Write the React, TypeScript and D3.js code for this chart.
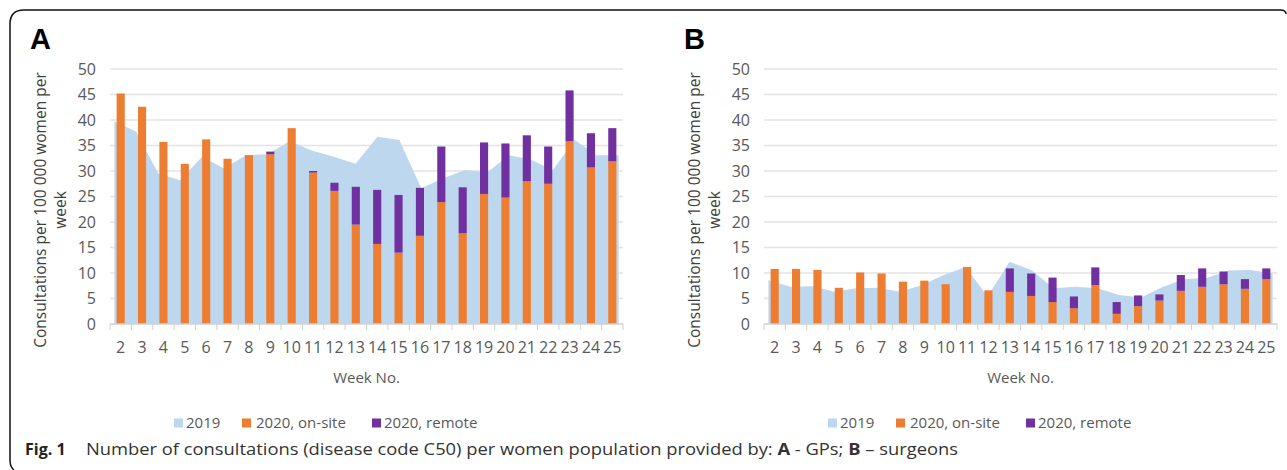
import React from 'react';
import * as d3 from 'd3';

const weeks = ['2','3','4','5','6','7','8','9','10','11','12','13','14','15','16','17','18','19','20','21','22','23','24','25'];

const gp2019 = [39.7,37.7,29.5,28.2,32.8,30.5,33.1,33.3,35.9,34.0,32.8,31.4,36.7,36.1,26.6,28.6,30.2,29.7,33.1,32.2,30.2,36.1,33.1,33.1];
const gpOnSite = [45.2,42.6,35.7,31.4,36.2,32.4,33.1,33.3,38.4,29.7,26.1,19.5,15.7,14.0,17.3,23.9,17.8,25.5,24.8,28.0,27.5,35.8,30.7,31.9];
const gpRemote = [0,0,0,0,0,0,0,0.5,0,0.3,1.6,7.4,10.6,11.3,9.4,10.9,9.0,10.1,10.6,9.0,7.3,10.0,6.7,6.5];

const surg2019 = [8.6,7.3,7.4,6.3,7.0,7.1,6.3,7.6,9.6,11.2,5.4,12.2,10.6,7.0,7.3,7.0,5.7,5.2,7.3,8.8,9.0,10.5,10.6,9.9];
const surgOnSite = [10.8,10.8,10.6,7.1,10.1,9.9,8.3,8.5,7.8,11.2,6.6,6.3,5.5,4.3,3.1,7.6,2.0,3.5,4.6,6.5,7.3,7.8,6.9,8.8];
const surgRemote = [0,0,0,0,0,0,0,0,0,0,0,4.6,4.4,4.8,2.3,3.5,2.3,2.1,1.2,3.1,3.6,2.5,1.9,2.1];

const yTicks = [0,5,10,15,20,25,30,35,40,45,50];
const seriesLabels = ['2019','2020, on-site','2020, remote'];
const yTitle1 = 'Consultations per 100 000 women per';
const yTitle2 = 'week';
const xTitle = 'Week No.';

const C2019 = '#bdd7ee';
const CONSITE = '#ed7d31';
const CREMOTE = '#7030a0';
const TXT = '#595959';
const FONT = "'Open Sans', sans-serif";

const PLOT_W = 513;
const Y0 = 324;
const Y50 = 69;

type PanelProps = { letter: string; left: number; v2019: number[]; onsite: number[]; remote: number[] };

function Panel({ letter, left, v2019, onsite, remote }: PanelProps) {
  const x = d3.scaleBand<string>().domain(weeks).range([left, left + PLOT_W]).paddingInner(0.62).paddingOuter(0.31);
  const xp = d3.scalePoint<string>().domain(weeks).range([left, left + PLOT_W]).padding(0.2);
  const y = d3.scaleLinear().domain([0, 50]).range([Y0, Y50]);
  const step = PLOT_W / weeks.length;

  const table = weeks.map((w, i) => ({ week: w, onsite: onsite[i], remote: remote[i] }));
  const stacked = d3.stack<any>().keys(['onsite', 'remote'])(table);
  const colors = [CONSITE, CREMOTE];

  const areaGen = d3.area<number>()
    .x((_, i) => xp(weeks[i]) as number)
    .y0(y(0))
    .y1((d) => y(d));

  const legendX = left + 64;
  const legendY = 423;
  const legendItems = [
    { sq: 0, tx: 12, color: C2019, label: seriesLabels[0] },
    { sq: 68, tx: 82, color: CONSITE, label: seriesLabels[1] },
    { sq: 198, tx: 210, color: CREMOTE, label: seriesLabels[2] },
  ];

  return (
    <g>
      <text x={left - 80} y={49} fontFamily="'Liberation Sans', Arial, sans-serif" fontWeight="bold" fontSize={29} fill="#000">{letter}</text>
      {yTicks.filter((t) => t > 0).map((t) => (
        <line key={t} x1={left} x2={left + PLOT_W} y1={y(t)} y2={y(t)} stroke="#e3e3e3" strokeWidth={1.3} />
      ))}
      <path d={areaGen(v2019) || ''} fill={C2019} />
      {stacked.map((s, si) => (
        <g key={si} fill={colors[si]}>
          {s.map((d: any, i: number) => (
            d[1] - d[0] > 0 ? (
              <rect key={i} x={x(weeks[i])} width={x.bandwidth()} y={y(d[1])} height={y(d[0]) - y(d[1])} />
            ) : null
          ))}
        </g>
      ))}
      <line x1={left} x2={left + PLOT_W} y1={Y0} y2={Y0} stroke="#d0d0d0" strokeWidth={1.3} />
      {d3.range(weeks.length + 1).map((i) => (
        <line key={i} x1={left + i * step} x2={left + i * step} y1={Y0} y2={Y0 + 6} stroke="#d0d0d0" strokeWidth={1} />
      ))}
      {yTicks.map((t) => (
        <text key={t} x={left - 14} y={y(t)} dy="0.35em" textAnchor="end" fontFamily={FONT} fontSize={16} fill={TXT}>{t}</text>
      ))}
      {weeks.map((w) => (
        <text key={w} x={(x(w) as number) + x.bandwidth() / 2} y={353} textAnchor="middle" fontFamily={FONT} fontSize={16} fill={TXT}>{w}</text>
      ))}
      <text transform={`translate(${left - 69},210) rotate(-90)`} textAnchor="middle" dy="0.35em" fontFamily={FONT} fontSize={15.5} fill="#404040">{yTitle1}</text>
      <text transform={`translate(${left - 49},210) rotate(-90)`} textAnchor="middle" dy="0.35em" fontFamily={FONT} fontSize={15.5} fill="#404040">{yTitle2}</text>
      <text x={left + PLOT_W / 2} y={383} textAnchor="middle" fontFamily={FONT} fontSize={15} fill={TXT}>{xTitle}</text>
      {legendItems.map((it, i) => (
        <g key={i}>
          <rect x={legendX + it.sq} y={legendY - 4.5} width={9} height={9} fill={it.color} />
          <text x={legendX + it.tx} y={legendY} dy="0.35em" fontFamily={FONT} fontSize={15} fill={TXT}>{it.label}</text>
        </g>
      ))}
    </g>
  );
}

export default function App() {
  return (
    <div style={{ position: 'absolute', left: 0, top: 0 }}>
      <svg width={1287} height={470} viewBox="0 0 1287 470" style={{ display: 'block', background: '#fff' }}>
        <rect x={0} y={0} width={1287} height={470} fill="#fff" />
        <path d="M14,470 Q10,467 10,460 L10,24 Q10,10 24,10 L1280,10 Q1286,10 1286,14" fill="none" stroke="#111" strokeWidth={1.5} />
        <Panel letter="A" left={110} v2019={gp2019} onsite={gpOnSite} remote={gpRemote} />
        <Panel letter="B" left={764} v2019={surg2019} onsite={surgOnSite} remote={surgRemote} />
        <text x={25} y={455} fontFamily={FONT} fontWeight="bold" fontSize={16} fill="#222">Fig. 1</text>
        <text x={86} y={455} fontFamily={FONT} fontSize={16} fill="#333" textLength={872} lengthAdjust="spacingAndGlyphs">
          Number of consultations (disease code C50) per women population provided by: <tspan fontWeight="bold">A</tspan> - GPs; <tspan fontWeight="bold">B</tspan> – surgeons
        </text>
      </svg>
    </div>
  );
}
